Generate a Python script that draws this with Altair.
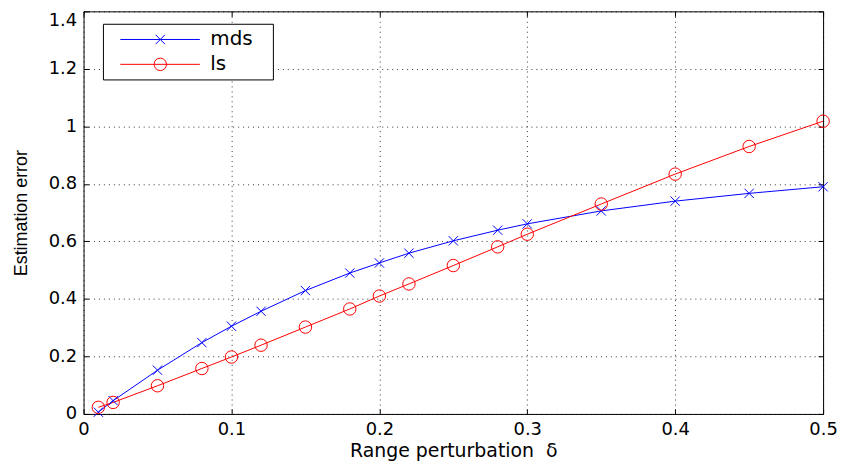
import altair as alt
import pandas as pd

# ---- data ----
delta = [0.01, 0.02, 0.05, 0.08, 0.10, 0.12, 0.15, 0.18, 0.20, 0.22, 0.25,
         0.28, 0.30, 0.35, 0.40, 0.45, 0.50]
mds = [0.006, 0.046, 0.152, 0.248, 0.305, 0.357, 0.429, 0.490, 0.525, 0.559,
       0.602, 0.639, 0.661, 0.706, 0.740, 0.767, 0.790]
ls = [0.023, 0.040, 0.098, 0.158, 0.198, 0.239, 0.302, 0.365, 0.410, 0.452,
      0.516, 0.581, 0.625, 0.730, 0.834, 0.930, 1.018]
series_names = ["mds", "ls"]
marker_names = ["x", "o"]
x_ticks = [0, 0.1, 0.2, 0.3, 0.4, 0.5]
y_ticks = [0, 0.2, 0.4, 0.6, 0.8, 1.0, 1.2, 1.4]

rows = []
for d, a, b in zip(delta, mds, ls):
    rows.append({"delta": d, "error": a, "series": "mds", "marker": "x"})
    rows.append({"delta": d, "error": b, "series": "ls", "marker": "o"})
df = pd.DataFrame(rows)

BLUE = "#0000ff"
RED = "#ff0000"
LABEL_FONT = "DejaVu Sans"
XSHAPE = "M-0.75,-0.75L0.75,0.75M-0.75,0.75L0.75,-0.75"

xscale = alt.Scale(domain=[0, 0.5], nice=False, zero=False)
yscale = alt.Scale(domain=[0, 1.4], nice=False)

grid_kw = dict(grid=True, gridDash=[1, 4], gridColor="#000000", gridOpacity=0.8,
               gridWidth=1)

x_main = alt.Axis(orient="bottom", offset=-5, tickSize=5, tickColor="#000",
                  values=x_ticks, format="~g", domain=False,
                  labelFont=LABEL_FONT, labelFontSize=18, labelColor="#000",
                  labelPadding=7, labelFlush=False,
                  title="Range perturbation\u00a0\u00a0δ", titleFont=LABEL_FONT,
                  titleFontSize=19, titleFontWeight="normal", titleColor="#000",
                  titlePadding=3, **grid_kw)
y_main = alt.Axis(orient="left", offset=-5, tickSize=5, tickColor="#000",
                  values=y_ticks, format="~g", domain=False,
                  labelFont=LABEL_FONT, labelFontSize=18, labelColor="#000",
                  labelPadding=7, labelFlush=False,
                  labelBaseline={"condition": {"test": "datum.value >= 1.39",
                                               "value": "top"},
                                 "value": "middle"},
                  title="Estimation error", titleFont="Liberation Sans",
                  titleFontSize=18, titleFontWeight="normal", titleColor="#000",
                  titlePadding=18, **grid_kw)
x_top = alt.Axis(orient="top", offset=-5, tickSize=5, tickColor="#000",
                 values=x_ticks, labels=False, domain=False, grid=False, title=None)
y_right = alt.Axis(orient="right", offset=-5, tickSize=5, tickColor="#000",
                   values=y_ticks, labels=False, domain=False, grid=False, title=None)

box = alt.Chart(pd.DataFrame({"box": [0]})).mark_rect(
    fill="white", stroke="black", strokeWidth=1
).encode(x=alt.value(20), x2=alt.value(191), y=alt.value(13), y2=alt.value(69))

lines = alt.Chart(df).mark_line(strokeWidth=1).encode(
    x=alt.X("delta:Q", scale=xscale, axis=x_main),
    y=alt.Y("error:Q", scale=yscale, axis=y_main),
    stroke=alt.Stroke("series:N",
                      scale=alt.Scale(domain=series_names, range=[BLUE, RED]),
                      legend=alt.Legend(title=None, orient="none", legendX=36.5,
                                        legendY=15.8, padding=0, symbolType="stroke",
                                        symbolSize=6400, symbolStrokeWidth=1,
                                        clipHeight=25, rowPadding=0, labelOffset=10,
                                        labelFont=LABEL_FONT, labelFontSize=20,
                                        labelColor="#000")),
    detail="series:N",
)

marker_legend = alt.Legend(title=None, orient="none", legendX=70.2, legendY=15.8,
                           padding=0, symbolStrokeWidth=1, symbolSize=156,
                           clipHeight=25, rowPadding=0, labelExpr="''",
                           symbolFillColor="transparent")
points = alt.Chart(df).mark_point(filled=False, size=156, strokeWidth=1, opacity=1).encode(
    x=alt.X("delta:Q", scale=xscale, axis=x_top),
    y=alt.Y("error:Q", scale=yscale, axis=y_right),
    color=alt.Color("marker:N",
                    scale=alt.Scale(domain=marker_names, range=[BLUE, RED]),
                    legend=marker_legend),
    shape=alt.Shape("marker:N",
                    scale=alt.Scale(domain=marker_names, range=[XSHAPE, "circle"]),
                    legend=marker_legend),
)

chart = alt.layer(box, lines, points).resolve_axis(
    x="independent", y="independent"
).properties(
    width=744, height=405,
    autosize=alt.AutoSizeParams(type="none"),
    padding={"left": 76, "top": 2, "right": 16, "bottom": 48},
    background="white",
).configure_view(stroke="black", strokeWidth=1)

chart.save("out.html", embed_options={"renderer": "svg", "actions": False})
